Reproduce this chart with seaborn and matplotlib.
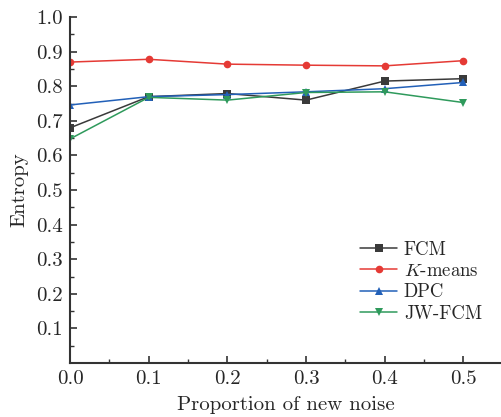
import pandas as pd
import matplotlib
matplotlib.use("Agg")
import matplotlib.pyplot as plt
import seaborn as sns

# data
noise = [0.0, 0.1, 0.2, 0.3, 0.4, 0.5]
fcm = [0.680, 0.770, 0.779, 0.760, 0.815, 0.822]
kmeans = [0.870, 0.878, 0.864, 0.861, 0.859, 0.874]
dpc = [0.746, 0.770, 0.776, 0.784, 0.793, 0.811]
jwfcm = [0.648, 0.768, 0.760, 0.782, 0.784, 0.753]
methods = ["FCM", "$K$-means", "DPC", "JW-FCM"]
xticks = [0.0, 0.1, 0.2, 0.3, 0.4, 0.5]
yticks = [0.1, 0.2, 0.3, 0.4, 0.5, 0.6, 0.7, 0.8, 0.9, 1.0]

df = pd.DataFrame({"noise": noise * 4,
                   "entropy": fcm + kmeans + dpc + jwfcm,
                   "method": sum([[m] * len(noise) for m in methods], [])})

sns.set_style("ticks")
plt.rcParams["font.family"] = ["cmr10", "DejaVu Serif"]
plt.rcParams["mathtext.fontset"] = "cm"
plt.rcParams["axes.unicode_minus"] = False
plt.rcParams["axes.formatter.use_mathtext"] = True

palette = {"FCM": "#3a3a3a", "$K$-means": "#e53a35",
           "DPC": "#2260b8", "JW-FCM": "#2f9a5c"}
markers = {"FCM": "s", "$K$-means": "o", "DPC": "^", "JW-FCM": "v"}

fig = plt.figure(figsize=(5.01, 4.17), dpi=100)
ax = fig.add_axes([0.14, 0.1295, 0.86, 0.8295])

sns.lineplot(data=df, x="noise", y="entropy", hue="method", style="method",
             palette=palette, markers=markers, dashes=False, markersize=5.5,
             markeredgewidth=0, linewidth=1.1, ax=ax)

ax.set_xlim(0, 0.548)
ax.set_ylim(0, 1.0)
ax.set_xticks(xticks)
ax.set_xticklabels([f"{v:.1f}" for v in xticks])
ax.set_xticks([0.05, 0.15, 0.25, 0.35, 0.45], minor=True)
ax.set_yticks(yticks)
ax.set_yticklabels([f"{v:.1f}" for v in yticks])
ax.set_yticks([0.05, 0.15, 0.25, 0.35, 0.45, 0.55, 0.65, 0.75, 0.85, 0.95], minor=True)
ax.tick_params(which="both", direction="in", labelsize=15, color="#333333")
ax.tick_params(which="major", length=5, width=1.2, pad=5)
ax.tick_params(which="minor", length=3, width=1.0)
for s in ["top", "right"]:
    ax.spines[s].set_visible(False)
for s in ["left", "bottom"]:
    ax.spines[s].set_linewidth(1.5)
    ax.spines[s].set_color("#333333")

ax.set_xlabel("Proportion of new noise", fontsize=15, labelpad=6)
ax.set_ylabel("Entropy", fontsize=15, labelpad=6)

ax.legend(frameon=False, loc="upper left", bbox_to_anchor=(0.655, 0.375),
          fontsize=13.5, handlelength=2.0, handletextpad=0.35,
          labelspacing=0.18, borderaxespad=0)

fig.savefig("out.png", dpi=100)
